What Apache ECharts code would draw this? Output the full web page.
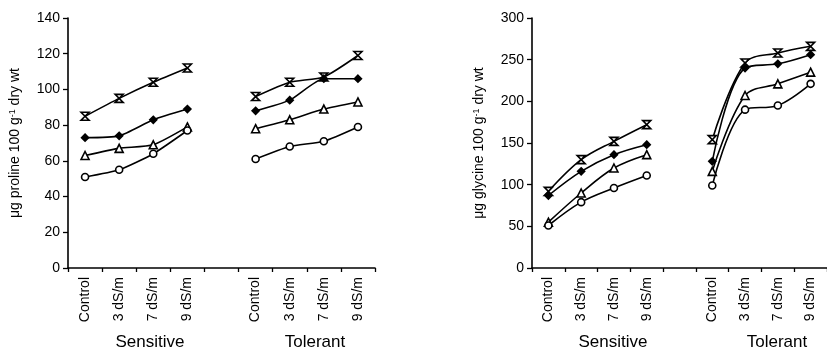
<!DOCTYPE html>
<html><head><meta charset="utf-8">
<script src="https://cdn.jsdelivr.net/npm/echarts@6/dist/echarts.min.js"></script>
<style>html,body{margin:0;padding:0;background:#fff}#c{width:827px;height:350px}</style>
</head><body><div id="c"></div>
<script>
// Categories
const treatments = ['Control','3 dS/m','7 dS/m','9 dS/m'];
const groups = ['Sensitive','Tolerant'];
// Proline (left panel) - sensitive / tolerant
const prolineX_S   = [85, 95, 104, 112];
const prolineX_T   = [96, 104, 107, 119];
const prolineDia_S = [73, 74, 83, 89];
const prolineDia_T = [88, 94, 106, 106];
const prolineTri_S = [63, 67, 69, 79];
const prolineTri_T = [78, 83, 89, 93];
const prolineCir_S = [51, 55, 64, 77];
const prolineCir_T = [61, 68, 71, 79];
// Glycine (right panel)
const glycineX_S   = [92, 130, 152, 172];
const glycineX_T   = [154, 246, 258, 266];
const glycineDia_S = [87, 116, 136, 148];
const glycineDia_T = [128, 240, 245, 256];
const glycineTri_S = [55, 90, 120, 136];
const glycineTri_T = [116, 207, 221, 235];
const glycineCir_S = [51, 79, 96, 111];
const glycineCir_T = [99, 190, 195, 221];
// Axis ticks
const prolineTicks = {min: 0, max: 140, interval: 20};
const glycineTicks = {min: 0, max: 300, interval: 50};

const cats = treatments.concat([''], treatments);
const join = (s, t) => s.concat([null], t);
const FONT = '"Liberation Sans", Arial, sans-serif';
const XBAR = 'path://M0,0 L10,0 L0,10 L10,10 Z';

const markers = [
  {sym: XBAR, fill: '#fff', size: 8},
  {sym: 'diamond', fill: '#000', size: 7},
  {sym: 'triangle', fill: '#fff', size: 8},
  {sym: 'circle', fill: '#fff', size: 7}
];
function mk(data, idx, m, smooth) {
  return {
    type: 'line', xAxisIndex: idx, yAxisIndex: idx, data: data,
    smooth: smooth, connectNulls: false,
    symbol: m.sym, symbolSize: m.size,
    lineStyle: {color: '#000', width: 1.6},
    itemStyle: {color: m.fill, borderColor: '#000', borderWidth: 1.6},
    emphasis: {disabled: true}
  };
}
const leftSets = [join(prolineX_S, prolineX_T), join(prolineDia_S, prolineDia_T), join(prolineTri_S, prolineTri_T), join(prolineCir_S, prolineCir_T)];
const rightSets = [join(glycineX_S, glycineX_T), join(glycineDia_S, glycineDia_T), join(glycineTri_S, glycineTri_T), join(glycineCir_S, glycineCir_T)];
const series = [];
leftSets.forEach((d, i) => series.push(mk(d, 0, markers[i], 0.2)));
rightSets.forEach((d, i) => series.push(mk(d, 1, markers[i], 0.35)));

const axisLine = {show: true, lineStyle: {color: '#000', width: 1.6}};
function xAx(gi) {
  return {
    type: 'category', gridIndex: gi, data: cats, boundaryGap: true,
    axisLine: axisLine,
    axisTick: {show: true, length: 4, lineStyle: {color: '#000', width: 1.3}},
    axisLabel: {rotate: 90, interval: 0, color: '#000', fontSize: 14, fontFamily: FONT, margin: 9}
  };
}
function yAx(gi, t, nm) {
  return {
    type: 'value', gridIndex: gi, min: t.min, max: t.max, interval: t.interval,
    axisLine: axisLine,
    axisTick: {show: true, length: 5, lineStyle: {color: '#000', width: 1.3}},
    splitLine: {show: false},
    axisLabel: {color: '#000', fontSize: 14, fontFamily: FONT, margin: 8},
    name: '{t|' + nm + ' 100 g}{s|-1}{t| dry wt}',
    nameLocation: 'middle', nameRotate: 90, nameGap: 45,
    nameTextStyle: {
      color: '#000', fontFamily: FONT,
      rich: {t: {fontSize: 14, fontFamily: FONT, color: '#000', lineHeight: 15},
             s: {fontSize: 9, fontFamily: FONT, color: '#000', verticalAlign: 'top', lineHeight: 15}}
    }
  };
}

const chart = echarts.init(document.getElementById('c'), null, {renderer: 'canvas'});
const grpStyle = txt => ({text: txt, fill: '#000', font: '17px ' + FONT, textAlign: 'center', textVerticalAlign: 'middle'});
chart.setOption({
  animation: false,
  grid: [
    {left: 68, top: 18, width: 307, bottom: 82},
    {left: 532, top: 18, width: 306, bottom: 82}
  ],
  xAxis: [xAx(0), xAx(1)],
  yAxis: [yAx(0, prolineTicks, 'μg proline'), yAx(1, glycineTicks, 'μg glycine')],
  series: series,
  graphic: [
    {type: 'text', x: 150, y: 342, style: grpStyle(groups[0])},
    {type: 'text', x: 315, y: 342, style: grpStyle(groups[1])},
    {type: 'text', x: 613, y: 342, style: grpStyle(groups[0])},
    {type: 'text', x: 777, y: 342, style: grpStyle(groups[1])}
  ]
});
</script>
</body></html>
